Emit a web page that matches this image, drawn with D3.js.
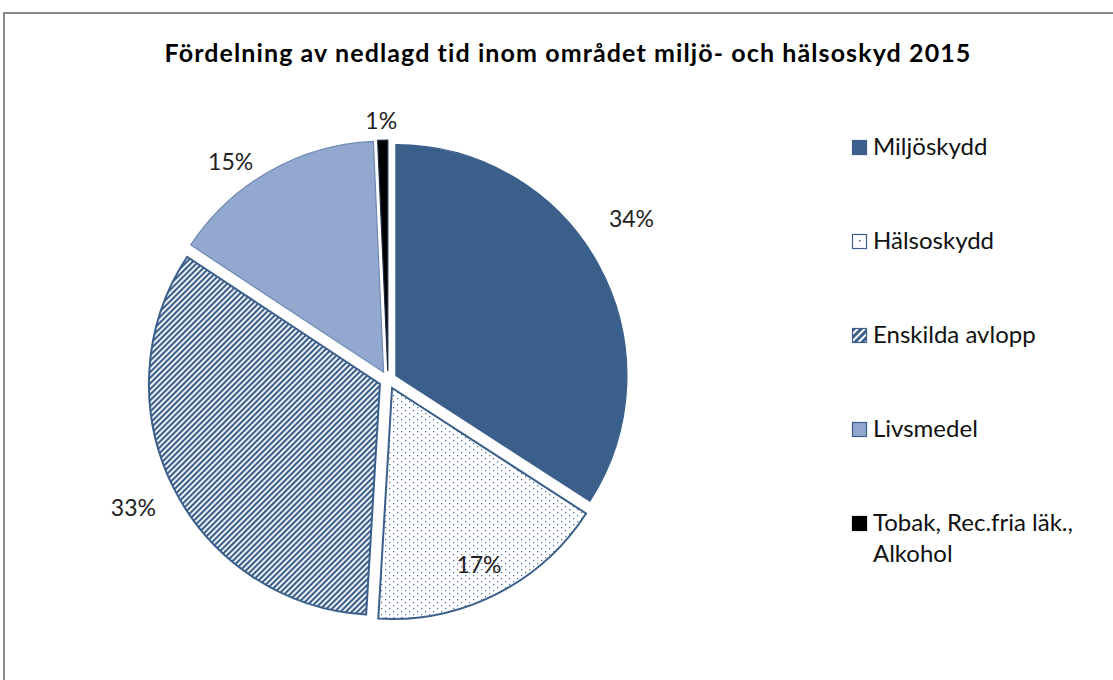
<!DOCTYPE html>
<html><head><meta charset="utf-8">
<script src="https://cdn.jsdelivr.net/npm/d3@7"></script>
<style>html,body{margin:0;padding:0;background:#fff;}svg{display:block;}</style>
</head><body>
<script>
const title = "Fördelning av nedlagd tid inom området miljö- och hälsoskyd 2015";
const categories = ["Miljöskydd", "Hälsoskydd", "Enskilda avlopp", "Livsmedel", "Tobak, Rec.fria läk., Alkohol"];
const values = [34.1, 16.8, 33.3, 15.0, 0.7];
const valueLabels = ["34%", "17%", "33%", "15%", "1%"];
const legendLines = [["Miljöskydd"], ["Hälsoskydd"], ["Enskilda avlopp"], ["Livsmedel"], ["Tobak, Rec.fria läk.,", "Alkohol"]];

const W = 1113, H = 680;
const cx = 388, cy = 380, R = 231, explode = 9;
const dark = "#3A5F8B";
const font = "Lato, 'Open Sans', sans-serif";
// label placement (angle in degrees clockwise from top, distance from centre)
const labelPolar = [[56.5, 292], [153.8, 206], [243.3, 285], [324.2, 269], [358.5, 259]];

const svg = d3.select("body").append("svg").attr("width", W).attr("height", H);
const defs = svg.append("defs");

// dotted pattern
const pd = defs.append("pattern").attr("id", "dots").attr("patternUnits", "userSpaceOnUse")
  .attr("width", 8).attr("height", 6);
pd.append("rect").attr("width", 8).attr("height", 6).attr("fill", "#fff");
pd.append("rect").attr("x", 1).attr("y", 1).attr("width", 1.2).attr("height", 1.2).attr("fill", dark);
pd.append("rect").attr("x", 5).attr("y", 4).attr("width", 1.2).attr("height", 1.2).attr("fill", dark);

// diagonal stripes
const ps = defs.append("pattern").attr("id", "stripes").attr("patternUnits", "userSpaceOnUse")
  .attr("width", 4).attr("height", 4).attr("patternTransform", "rotate(45)");
ps.append("rect").attr("width", 4).attr("height", 4).attr("fill", "#fff");
ps.append("rect").attr("width", 2.2).attr("height", 4).attr("fill", dark);

// legend stripes (wider)
const pl = defs.append("pattern").attr("id", "stripesL").attr("patternUnits", "userSpaceOnUse")
  .attr("width", 5).attr("height", 5).attr("patternTransform", "rotate(45)");
pl.append("rect").attr("width", 5).attr("height", 5).attr("fill", "#fff");
pl.append("rect").attr("width", 3).attr("height", 5).attr("fill", dark);

const fills = [dark, "url(#dots)", "url(#stripes)", "#93A8CF", "#000"];
const strokes = [dark, dark, dark, "#6F88B4", "#1a2a40"];
const legendFills = [dark, "#fff", "url(#stripesL)", "#93A8CF", "#000"];

// chart border
svg.append("path").attr("d", `M4,${H} V13 H${W}`).attr("fill", "none")
  .attr("stroke", "#8a8a8a").attr("stroke-width", 2);

// title
svg.append("text").attr("x", 568).attr("y", 62).attr("text-anchor", "middle")
  .attr("font-family", font).attr("font-weight", "bold").attr("font-size", 25)
  .attr("letter-spacing", 1.1)
  .attr("fill", "#000").text(title);

const pie = d3.pie().sort(null).value(d => d)(values);
const arc = d3.arc().innerRadius(0).outerRadius(R);

const g = svg.append("g").attr("transform", `translate(${cx},${cy})`);
g.selectAll("path.slice").data(pie).join("path")
  .attr("class", "slice")
  .attr("transform", d => {
    const m = (d.startAngle + d.endAngle) / 2;
    return `translate(${Math.sin(m) * explode},${-Math.cos(m) * explode})`;
  })
  .attr("d", arc)
  .attr("fill", (d, i) => fills[i])
  .attr("stroke", (d, i) => strokes[i])
  .attr("stroke-width", (d, i) => (i === 1 || i === 2) ? 2 : 1.2)
  .attr("stroke-linejoin", "miter");

g.selectAll("text.lbl").data(pie).join("text")
  .attr("class", "lbl")
  .attr("x", (d, i) => Math.sin(labelPolar[i][0] * Math.PI / 180) * labelPolar[i][1])
  .attr("y", (d, i) => -Math.cos(labelPolar[i][0] * Math.PI / 180) * labelPolar[i][1])
  .attr("dy", "0.36em")
  .attr("text-anchor", "middle")
  .attr("font-family", font).attr("font-size", 23).attr("fill", "#222")
  .text((d, i) => valueLabels[i]);

// legend
const legY = d3.scalePoint().domain(categories).range([155, 531]);
const lg = svg.append("g");
categories.forEach((c, i) => {
  const y = legY(c);
  lg.append("rect").attr("x", 852.5).attr("y", y - 14.5).attr("width", 14).attr("height", 14)
    .attr("fill", legendFills[i])
    .attr("stroke", i === 4 ? "#000" : dark).attr("stroke-width", 1.2);
  if (i === 1) {
    lg.append("rect").attr("x", 859).attr("y", y - 9).attr("width", 1.5).attr("height", 1.5).attr("fill", dark);
  }
  const t = lg.append("text").attr("x", 873).attr("y", y)
    .attr("font-family", font).attr("font-size", 24).attr("fill", "#111");
  legendLines[i].forEach((ln, k) => {
    t.append("tspan").attr("x", 873).attr("dy", k === 0 ? 0 : 31).text(ln);
  });
});
</script>
</body></html>
